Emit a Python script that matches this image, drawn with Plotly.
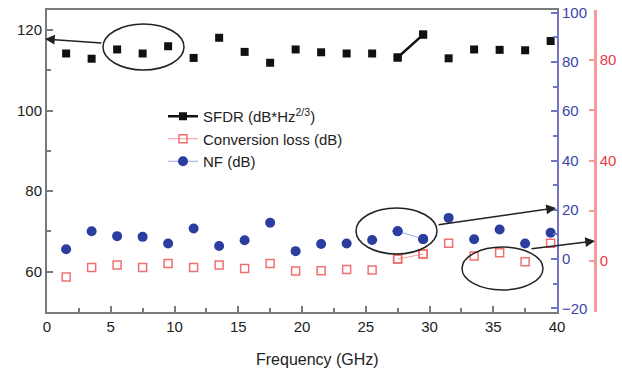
import plotly.graph_objects as go

# ---- data ----
freq_ghz = [1.5, 3.5, 5.5, 7.5, 9.5, 11.5, 13.5, 15.5, 17.5, 19.5,
            21.5, 23.5, 25.5, 27.5, 29.5, 31.5, 33.5, 35.5, 37.5, 39.5]
sfdr = [114.2, 112.9, 115.2, 114.2, 116.0, 113.1, 118.1, 114.6, 111.9, 115.2,
        114.5, 114.2, 114.2, 113.2, 118.9, 113.0, 115.2, 115.1, 115.0, 117.3]
conv_loss = [-6.4, -2.7, -1.7, -2.7, -1.1, -2.7, -1.7, -3.1, -1.1, -4.1,
             -4.0, -3.5, -3.7, 0.7, 2.7, 7.0, 1.9, 3.2, -0.4, 7.0]
nf = [4.0, 11.3, 9.3, 9.0, 6.3, 12.4, 5.3, 7.6, 14.7, 3.2,
      6.1, 6.3, 7.7, 11.3, 8.1, 16.7, 8.0, 12.0, 6.3, 10.7]
seg = slice(13, 15)  # the pair of points joined by a line segment in the original
x_title = "Frequency (GHz)"

# ---- styling / geometry ----
FONT = "Liberation Sans, Arial, sans-serif"
GRAY = "#7a7a7a"
BLUE_LINE = "#7373c4"
BLUE_TXT = "#3a45a8"
RED_LINE = "#f49a9a"
RED_TXT = "#ee3a45"
L, R_PLOT, RED_X, T, B = 47, 557, 595, 10, 312


def px(x):
    return (x - L) / (RED_X - L)


def py(y):
    return (B - y) / (B - T)


fig = go.Figure()

# SFDR
fig.add_trace(go.Scatter(x=freq_ghz, y=sfdr, mode="markers", showlegend=False,
                         marker=dict(symbol="square", size=8, color="#111111")))
fig.add_trace(go.Scatter(x=freq_ghz[seg], y=sfdr[seg], mode="lines+markers",
                         name="SFDR (dB*Hz<sup>2/3</sup>)",
                         line=dict(color="#111111", width=2.5),
                         marker=dict(symbol="square", size=8, color="#111111")))
# Conversion loss (red axis)
fig.add_trace(go.Scatter(x=freq_ghz, y=conv_loss, mode="markers", showlegend=False, yaxis="y3",
                         marker=dict(symbol="square-open", size=8, color="#f07070",
                                     line=dict(width=1.5, color="#f07070"))))
fig.add_trace(go.Scatter(x=freq_ghz[seg], y=conv_loss[seg], mode="lines+markers", yaxis="y3",
                         name="Conversion loss (dB)",
                         line=dict(color=RED_LINE, width=1),
                         marker=dict(symbol="square-open", size=8, color="#f07070",
                                     line=dict(width=1.5, color="#f07070"))))
# NF (blue axis)
fig.add_trace(go.Scatter(x=freq_ghz, y=nf, mode="markers", showlegend=False, yaxis="y2",
                         marker=dict(symbol="circle", size=10, color="#2b3d9f")))
fig.add_trace(go.Scatter(x=freq_ghz[seg], y=nf[seg], mode="lines+markers", yaxis="y2",
                         name="NF (dB)",
                         line=dict(color="#a4a4e2", width=1),
                         marker=dict(symbol="circle", size=10, color="#2b3d9f")))

dom_end = (R_PLOT - L) / (RED_X - L)

fig.update_layout(
    width=622, height=369,
    margin=dict(l=L, r=622 - RED_X, t=T, b=369 - B, autoexpand=False),
    paper_bgcolor="white", plot_bgcolor="white",
    font=dict(family=FONT, size=15, color="#222222"),
    xaxis=dict(domain=[0, dom_end], range=[0, 40], tick0=0, dtick=5, automargin=False,
               ticks="inside", ticklen=6, tickcolor=GRAY, tickwidth=1.5,
               minor=dict(dtick=2.5, ticks="inside", ticklen=4, tickcolor=GRAY, tickwidth=1.5),
               showline=True, linecolor=GRAY, linewidth=2, mirror=True,
               showgrid=False, zeroline=False),
    yaxis=dict(range=[50, 125], tick0=0, dtick=20, automargin=False,
               ticks="inside", ticklen=6, tickcolor=GRAY, tickwidth=1.5,
               minor=dict(dtick=10, ticks="inside", ticklen=4, tickcolor=GRAY, tickwidth=1.5),
               showline=True, linecolor=GRAY, linewidth=2,
               showgrid=False, zeroline=False),
    yaxis2=dict(overlaying="y", side="right", anchor="x", range=[-21.5, 101.1], automargin=False,
                tick0=0, dtick=20, ticks="inside", ticklen=6, tickcolor=BLUE_LINE, tickwidth=1.5,
                minor=dict(dtick=10, ticks="inside", ticklen=4, tickcolor=BLUE_LINE, tickwidth=1.5),
                showline=True, linecolor=BLUE_LINE, linewidth=2,
                tickfont=dict(color=BLUE_TXT), showgrid=False, zeroline=False),
    yaxis3=dict(overlaying="y", side="right", anchor="free", position=1, range=[-20.4, 100],
                automargin=False,
                tick0=0, dtick=40, ticks="inside", ticklen=5, tickcolor=RED_LINE, tickwidth=1.5,
                minor=dict(dtick=20, ticks="inside", ticklen=5, tickcolor=RED_LINE, tickwidth=1.5),
                showline=True, linecolor=RED_LINE, linewidth=2.5,
                tickfont=dict(color=RED_TXT), showgrid=False, zeroline=False),
    legend=dict(x=px(163), y=py(100), xanchor="left", yanchor="top",
                bgcolor="rgba(0,0,0,0)", font=dict(size=15), tracegroupgap=0),
    showlegend=True,
)

# x-axis title placed as in the reference (slightly right of plot centre)
fig.add_annotation(x=px(317), y=py(359), xref="paper", yref="paper",
                   text=x_title, showarrow=False, xanchor="center", yanchor="middle",
                   font=dict(size=16, color="#222222"))

# ellipses
for (x0, y0, x1, y1) in [(103, 24, 184, 70), (356, 208, 437, 254), (462, 247, 543, 290)]:
    fig.add_shape(type="circle", xref="paper", yref="paper",
                  x0=px(x0), x1=px(x1), y0=py(y1), y1=py(y0),
                  line=dict(color="#222222", width=1.5))

# arrows (head, tail) in pixels
for (hx, hy, tx, ty) in [(45, 39, 103, 43), (556, 208, 437, 225), (595, 241, 530, 249)]:
    fig.add_annotation(x=px(hx), y=py(hy), xref="paper", yref="paper",
                       ax=tx - hx, ay=ty - hy, axref="pixel", ayref="pixel",
                       text="", showarrow=True, arrowhead=2, arrowsize=1.3,
                       arrowwidth=1.5, arrowcolor="#222222")

fig.write_html(
    "out.html",
    config={"displayModeBar": False},
    post_script="document.body.style.margin='0';document.body.style.padding='0';"
                "document.body.style.overflow='hidden';",
)
